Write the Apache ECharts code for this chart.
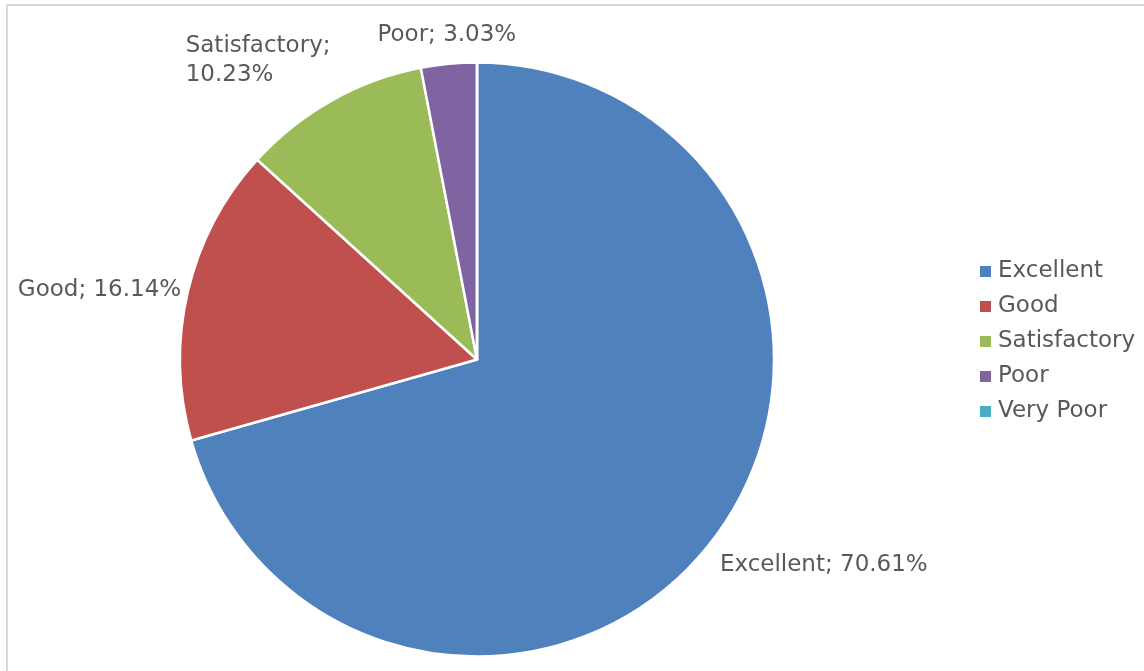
<!DOCTYPE html>
<html>
<head>
<meta charset="utf-8">
<script src="https://cdn.jsdelivr.net/npm/echarts@6/dist/echarts.min.js"></script>
<style>
html,body{margin:0;padding:0;background:#fff;}
#chart{width:1144px;height:671px;}
</style>
</head>
<body>
<div id="chart"></div>
<script>
const categories = ['Excellent', 'Good', 'Satisfactory', 'Poor', 'Very Poor'];
const values = [70.61, 16.14, 10.23, 3.03, 0];
const colors = ['#4F81BD', '#C0504D', '#9BBB59', '#8064A2', '#4BACC6'];

// label nudges (style only): [dx, dy, align]
const labelNudge = [[-7, 20], [8, 1], [-136, -31, 'left'], [4, -19, 'center'], [0, 0]];

const chart = echarts.init(document.getElementById('chart'), null, {renderer: 'canvas'});
const data = categories.map((c, i) => ({
  name: c,
  value: values[i],
  itemStyle: {color: colors[i]},
  label: {show: values[i] > 0}
}));

chart.setOption({
  animation: false,
  backgroundColor: '#fff',
  textStyle: {fontFamily: 'DejaVu Sans'},
  graphic: [{
    type: 'rect', silent: true, z: -1,
    shape: {x: 7, y: 5, width: 1200, height: 700},
    style: {fill: 'none', stroke: '#d9d9d9', lineWidth: 2}
  }],
  legend: {
    orient: 'vertical',
    left: 973, top: 255,
    itemWidth: 13, itemHeight: 13, itemGap: 12,
    icon: 'rect',
    textStyle: {fontFamily: 'DejaVu Sans', fontSize: 23, color: '#595959', padding: [0, 0, 0, 1]},
    data: categories
  },
  series: [{
    type: 'pie',
    center: [477, 359.5],
    radius: [0, 297],
    startAngle: 90,
    clockwise: true,
    avoidLabelOverlap: false,
    itemStyle: {borderColor: '#fff', borderWidth: 2.5},
    label: {
      show: true,
      position: 'outside',
      formatter: p => p.name + '; ' + p.value.toFixed(2) + '%',
      fontFamily: 'DejaVu Sans',
      fontSize: 23,
      color: '#595959',
      width: 215,
      overflow: 'break',
      lineHeight: 29
    },
    labelLine: {show: false, length: 10, length2: 0},
    labelLayout: function (p) {
      const n = labelNudge[p.dataIndex] || [0, 0];
      const r = {dx: n[0], dy: n[1], hideOverlap: false};
      if (n[2]) r.align = n[2];
      return r;
    },
    emphasis: {disabled: true},
    data: data
  }]
});
</script>
</body>
</html>
